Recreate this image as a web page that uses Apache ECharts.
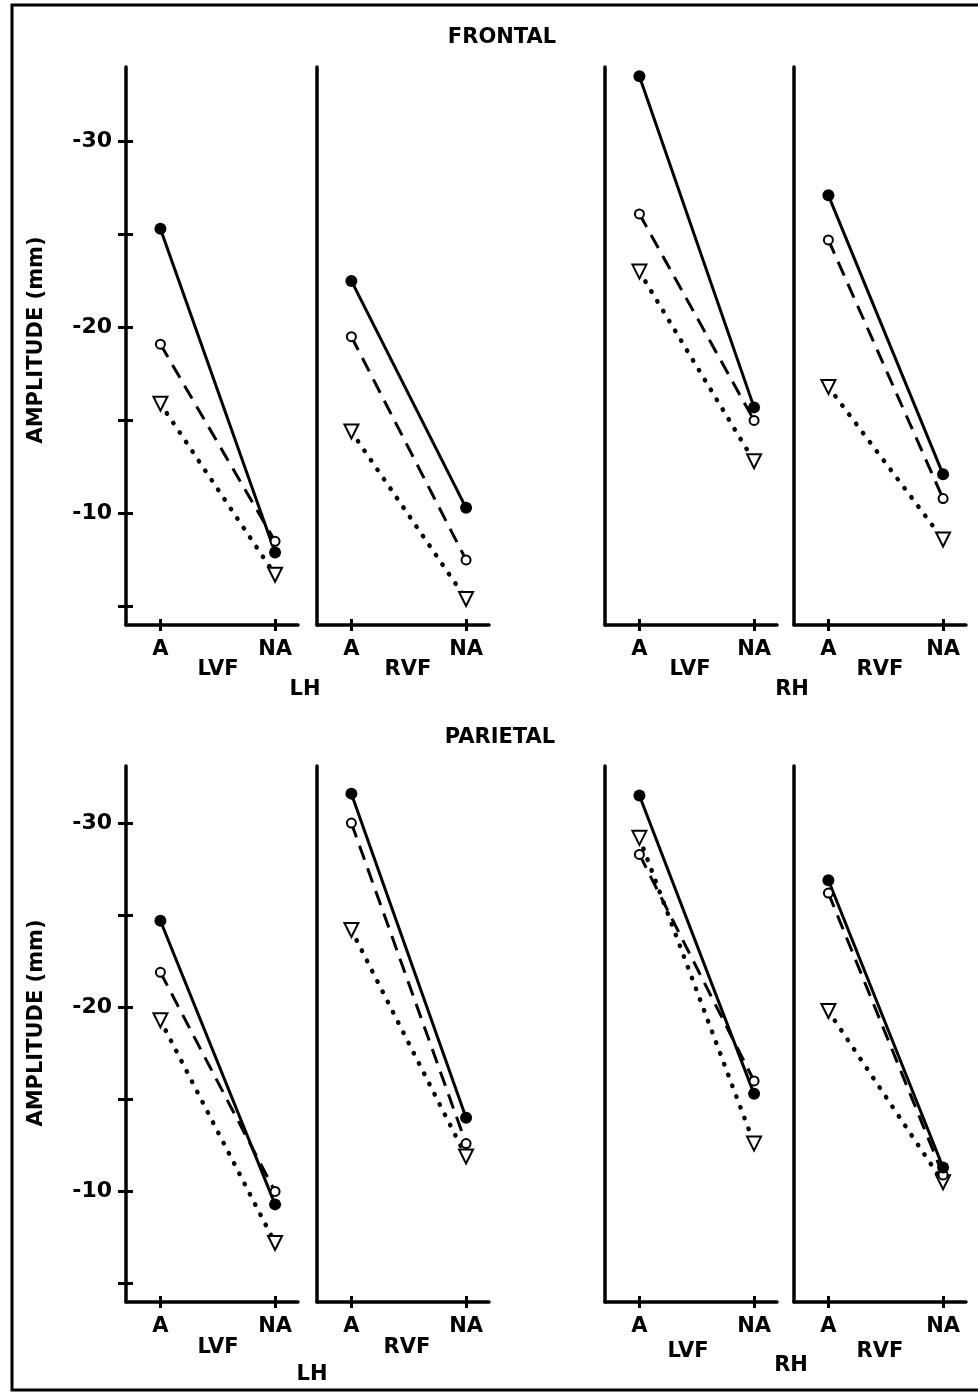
<!DOCTYPE html>
<html>
<head>
<meta charset="utf-8">
<script src="https://cdn.jsdelivr.net/npm/echarts@6/dist/echarts.min.js"></script>
<style>
  html, body { margin: 0; padding: 0; background: #fff; }
  #chart { width: 978px; height: 1395px; }
</style>
</head>
<body>
<div id="chart"></div>
<script>
// labels
var rowTitles = ['FRONTAL', 'PARIETAL'];
var xLabels = ['A', 'NA'];
var fieldLabels = ['LVF', 'RVF', 'LVF', 'RVF'];
var hemiLabels = ['LH', 'RH'];
var yName = 'AMPLITUDE (mm)';
var yTicks = [-30, -25, -20, -15, -10, -5];
var yTickLabels = [-30, -20, -10];

// amplitude (mm) at A and NA, one pair per panel: LH-LVF, LH-RVF, RH-LVF, RH-RVF
var frontalSolid   = [[-25.3, -7.9],  [-22.5, -10.3], [-33.5, -15.7], [-27.1, -12.1]];
var frontalDashed  = [[-19.1, -8.5],  [-19.5, -7.5],  [-26.1, -15.0], [-24.7, -10.8]];
var frontalDotted  = [[-15.9, -6.7],  [-14.4, -5.4],  [-23.0, -12.8], [-16.8, -8.6]];
var parietalSolid  = [[-24.7, -9.3],  [-31.6, -14.0], [-31.5, -15.3], [-26.9, -11.3]];
var parietalDashed = [[-21.9, -10.0], [-30.0, -12.6], [-28.3, -16.0], [-26.2, -10.9]];
var parietalDotted = [[-19.3, -7.2],  [-24.2, -11.9], [-29.2, -12.6], [-19.8, -10.5]];

var FONT = 'DejaVu Sans';
var panelLefts = [126, 317, 605, 794];
var panelWidth = 172;
var rowTops = [67, 766];
var rowHeights = [558, 536];
var rowMins = [-34, -33.1];

var rows = [
    { solid: frontalSolid, dashed: frontalDashed, dotted: frontalDotted },
    { solid: parietalSolid, dashed: parietalDashed, dotted: parietalDotted }
];

var grids = [], xAxes = [], yAxes = [], series = [];

function pairData(pair) {
    return pair.map(function (v, i) { return [i, v]; });
}

rows.forEach(function (row, r) {
    for (var p = 0; p < 4; p++) {
        var g = grids.length;
        grids.push({ left: panelLefts[p], top: rowTops[r], width: panelWidth, height: rowHeights[r] });

        var first = p === 0;
        // main axes carry line, outer ticks and labels; the twin axes add the inner half of each tick
        xAxes.push({
            gridIndex: g, type: 'value', position: 'bottom', min: -0.3, max: 1.2,
            axisLine: { onZero: false, lineStyle: { color: '#000', width: 3.5 } },
            axisTick: { customValues: [0, 1], length: 6, lineStyle: { color: '#000', width: 3 } },
            axisLabel: {
                customValues: [0, 1], margin: 14, color: '#000',
                fontFamily: FONT, fontWeight: 'bold', fontSize: 21,
                formatter: function (v) { return xLabels[Math.round(v)]; }
            },
            splitLine: { show: false }
        });
        xAxes.push({
            gridIndex: g, type: 'value', position: 'bottom', offset: 0, min: -0.3, max: 1.2,
            axisLine: { show: false, onZero: false },
            axisTick: { customValues: [0, 1], inside: true, length: 6, lineStyle: { color: '#000', width: 3 } },
            axisLabel: { show: false }, splitLine: { show: false }
        });
        yAxes.push({
            gridIndex: g, type: 'value', position: 'left', inverse: true, min: rowMins[r], max: -4,
            axisLine: { show: true, onZero: false, lineStyle: { color: '#000', width: 3.5 } },
            axisTick: { show: first, customValues: yTicks, length: 8, lineStyle: { color: '#000', width: 3 } },
            axisLabel: {
                show: first, customValues: yTickLabels, margin: 14, color: '#000',
                fontFamily: FONT, fontWeight: 'bold', fontSize: 22
            },
            splitLine: { show: false }
        });
        yAxes.push({
            gridIndex: g, type: 'value', position: 'left', offset: 0, inverse: true, min: rowMins[r], max: -4,
            axisLine: { show: false, onZero: false },
            axisTick: { show: first, customValues: yTicks, inside: true, length: 7, lineStyle: { color: '#000', width: 3 } },
            axisLabel: { show: false }, splitLine: { show: false }
        });

        var xi = g * 2, yi = g * 2;
        series.push({
            type: 'line', xAxisIndex: xi, yAxisIndex: yi, data: pairData(row.dotted[p]),
            symbol: 'emptyTriangle', symbolRotate: 180, symbolSize: 14,
            itemStyle: { color: '#000', borderWidth: 3 },
            lineStyle: { color: '#000', width: 4.5, type: [0.5, 11], cap: 'round' }
        });
        series.push({
            type: 'line', xAxisIndex: xi, yAxisIndex: yi, data: pairData(row.dashed[p]),
            symbol: 'emptyCircle', symbolSize: 9,
            itemStyle: { color: '#000', borderWidth: 3 },
            lineStyle: { color: '#000', width: 3, type: [15, 9] }
        });
        series.push({
            type: 'line', xAxisIndex: xi, yAxisIndex: yi, data: pairData(row.solid[p]),
            symbol: 'circle', symbolSize: 12,
            itemStyle: { color: '#000' },
            lineStyle: { color: '#000', width: 3 }
        });
    }
});

function txt(text, x, y, size, rot) {
    return {
        type: 'text', x: x, y: y, rotation: rot || 0,
        style: {
            text: text, fill: '#000', font: 'bold ' + (size || 21) + 'px "' + FONT + '"',
            textAlign: 'center', textVerticalAlign: 'middle'
        }
    };
}

var graphics = [
    { type: 'polyline', shape: { points: [[978, 5], [12, 5], [12, 1390], [978, 1390]] },
      style: { stroke: '#000', lineWidth: 3, fill: null } },
    txt(rowTitles[0], 502, 38, 21), txt(rowTitles[1], 500, 738, 21),
    txt(yName, 37, 340, 21, Math.PI / 2), txt(yName, 37, 1023, 21, Math.PI / 2),
    txt(fieldLabels[0], 218, 670), txt(fieldLabels[1], 408, 670), txt(hemiLabels[0], 305, 690),
    txt(fieldLabels[2], 690, 670), txt(fieldLabels[3], 880, 670), txt(hemiLabels[1], 792, 690),
    txt(fieldLabels[0], 218, 1348), txt(fieldLabels[1], 407, 1348), txt(hemiLabels[0], 312, 1375),
    txt(fieldLabels[2], 688, 1352), txt(fieldLabels[3], 880, 1352), txt(hemiLabels[1], 791, 1366)
];

var chart = echarts.init(document.getElementById('chart'));
chart.setOption({
    animation: false,
    backgroundColor: '#fff',
    grid: grids,
    xAxis: xAxes,
    yAxis: yAxes,
    series: series,
    graphic: graphics
});
</script>
</body>
</html>
